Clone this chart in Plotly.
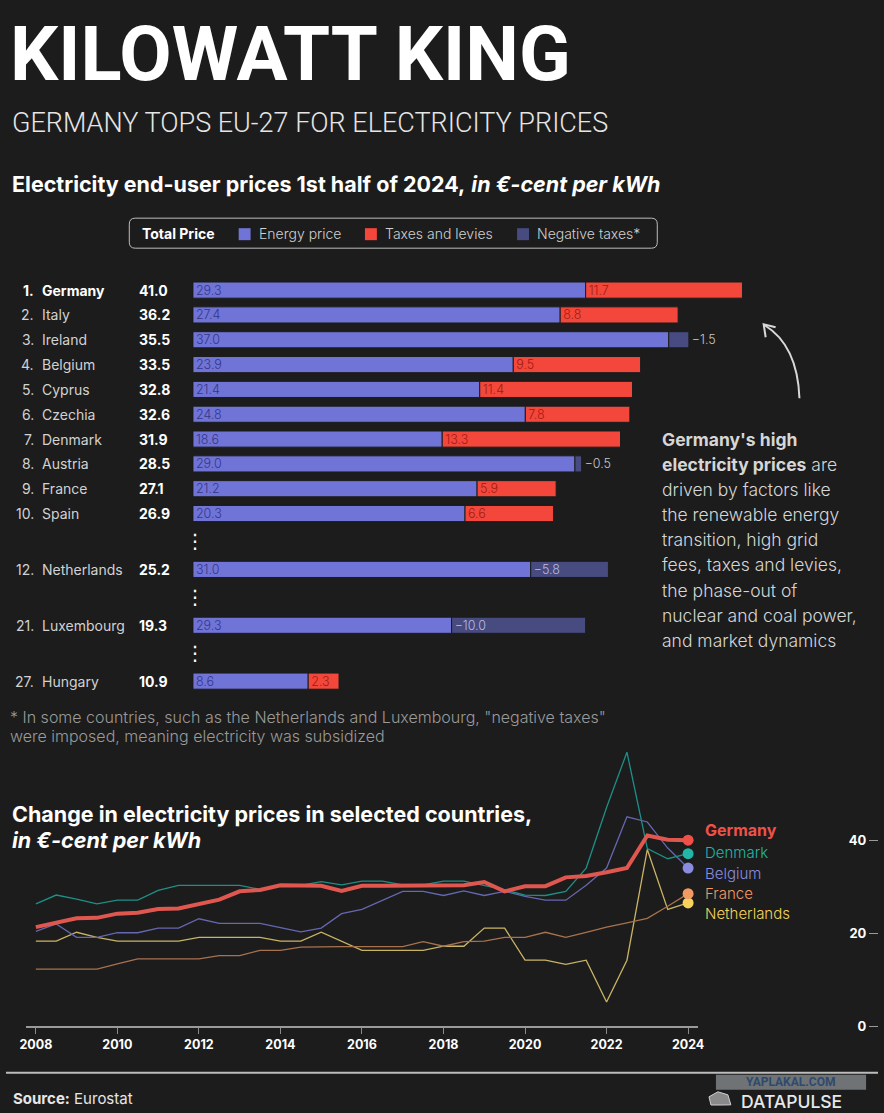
import plotly.graph_objects as go

W, H = 884, 1113
BG = "#1c1c1c"
FONT = "Inter, 'Noto Sans', sans-serif"
S = 1.008  # the page photo comes out ~0.8% smaller, so positions are stretched a little

# bar chart: electricity end-user prices, 1st half 2024 (euro-cent per kWh)
countries = ["Germany", "Italy", "Ireland", "Belgium", "Cyprus", "Czechia", "Denmark",
             "Austria", "France", "Spain", "Netherlands", "Luxembourg", "Hungary"]
ranks = [1, 2, 3, 4, 5, 6, 7, 8, 9, 10, 12, 21, 27]
totals = [41.0, 36.2, 35.5, 33.5, 32.8, 32.6, 31.9, 28.5, 27.1, 26.9, 25.2, 19.3, 10.9]
energy = [29.3, 27.4, 37.0, 23.9, 21.4, 24.8, 18.6, 29.0, 21.2, 20.3, 31.0, 29.3, 8.6]
taxes = [11.7, 8.8, -1.5, 9.5, 11.4, 7.8, 13.3, -0.5, 5.9, 6.6, -5.8, -10.0, 2.3]

# line chart: half-yearly prices 2008-S1 .. 2024-S1
periods = [2008.0, 2008.5, 2009.0, 2009.5, 2010.0, 2010.5, 2011.0, 2011.5, 2012.0, 2012.5,
           2013.0, 2013.5, 2014.0, 2014.5, 2015.0, 2015.5, 2016.0, 2016.5, 2017.0, 2017.5,
           2018.0, 2018.5, 2019.0, 2019.5, 2020.0, 2020.5, 2021.0, 2021.5, 2022.0, 2022.5,
           2023.0, 2023.5, 2024.0]
germany = [21.3, 22.2, 23.2, 23.3, 24.2, 24.4, 25.2, 25.3, 26.2, 27.2, 29.0, 29.3, 30.3, 30.3,
           30.2, 29.1, 30.2, 30.2, 30.2, 30.2, 30.3, 30.3, 31.0, 29.0, 30.1, 30.1, 32.0, 32.3,
           33.1, 34.0, 41.0, 40.1, 40.0]
denmark = [26.3, 28.2, 27.3, 26.3, 27.1, 27.1, 29.2, 30.3, 30.3, 30.3, 30.3, 29.4, 30.3, 30.3,
           31.1, 30.4, 31.2, 31.2, 30.4, 30.4, 31.2, 31.2, 30.3, 29.3, 28.2, 28.1, 29.0, 34.0,
           47.0, 58.9, 38.2, 36.0, 37.1]
belgium = [20.4, 22.0, 19.1, 19.1, 20.1, 20.1, 21.1, 21.1, 23.1, 22.1, 22.1, 22.1, 21.2, 20.3,
           21.1, 24.2, 25.1, 27.0, 29.0, 29.0, 28.1, 29.1, 28.1, 29.0, 27.9, 27.1, 27.1, 30.3,
           34.0, 45.0, 43.9, 38.3, 34.0]
france = [12.3, 12.3, 12.3, 12.3, 13.4, 14.5, 14.5, 14.5, 14.5, 15.2, 15.2, 16.3, 16.3, 17.0,
          17.1, 17.1, 17.1, 17.1, 17.1, 18.2, 17.2, 18.2, 18.3, 19.1, 19.1, 20.2, 19.1, 20.2,
          21.3, 22.2, 23.2, 25.8, 28.5]
netherlands = [18.3, 18.3, 20.2, 19.1, 18.3, 18.3, 18.3, 18.3, 19.1, 19.1, 19.1, 19.1, 18.3,
               18.3, 20.2, 18.3, 16.3, 16.3, 16.3, 16.3, 17.2, 17.2, 21.1, 21.1, 14.2, 14.2,
               13.3, 14.2, 5.2, 14.2, 38.0, 25.1, 26.5]
year_ticks = [2008, 2010, 2012, 2014, 2016, 2018, 2020, 2022, 2024]
price_ticks = [0, 20, 40]

C_ENERGY = "#7074d6"
C_TAX = "#f4473b"
C_NEG = "#474b80"


def X(px):
    return min(px * S / W, 1.0)


def Y(py):
    return max(1 - py * S / H, 0.0)


# row slots: consecutive ranks one row apart, skipped ranks leave a wider gap
pos = []
p = 0.0
for k, r in enumerate(ranks):
    if k > 0:
        p += 2.25 if r - ranks[k - 1] > 1 else 1
    pos.append(p)

fmt = lambda v: f"{v:.1f}".replace("-", "\u2212")

fig = go.Figure()

# energy part (for negative taxes the blue bar stops at the total)
blue_len = [e if t >= 0 else e + t for e, t in zip(energy, taxes)]
fig.add_trace(go.Bar(
    y=pos, x=blue_len, base=0, orientation="h", width=0.65,
    marker=dict(color=C_ENERGY, line=dict(color=BG, width=1)),
    text=[fmt(e) for e in energy], textposition="inside", insidetextanchor="start",
    textangle=0, textfont=dict(family=FONT, size=12.5, color="#33368a", weight=300),
    xaxis="x", yaxis="y", cliponaxis=False,
))
# taxes and levies
fig.add_trace(go.Bar(
    y=pos, x=[t if t > 0 else None for t in taxes],
    base=[e if t > 0 else None for e, t in zip(energy, taxes)],
    orientation="h", width=0.65,
    marker=dict(color=C_TAX, line=dict(color=BG, width=1)),
    text=[fmt(t) if t > 0 else "" for t in taxes], textposition="inside",
    insidetextanchor="start", textangle=0,
    textfont=dict(family=FONT, size=12.5, color="#a01c12", weight=300),
    xaxis="x", yaxis="y", cliponaxis=False,
))
# negative taxes
fig.add_trace(go.Bar(
    y=pos, x=[-t if t < 0 else None for t in taxes],
    base=[tot if t < 0 else None for tot, t in zip(totals, taxes)],
    orientation="h", width=0.65,
    marker=dict(color=C_NEG, line=dict(color=BG, width=1)),
    text=[fmt(t) if t < 0 else "" for t in taxes],
    textposition=["outside" if -t < 2 else "inside" for t in taxes],
    insidetextanchor="start", textangle=0,
    insidetextfont=dict(family=FONT, size=12.5, color="#b9bce0", weight=300),
    outsidetextfont=dict(family=FONT, size=12.5, color="#c8c8c8", weight=300),
    xaxis="x", yaxis="y", cliponaxis=False,
))

# line chart
series = [
    ("Netherlands", netherlands, "#c9b464", "#f7d35c", 1.3),
    ("France", france, "#a8724f", "#f39a63", 1.3),
    ("Belgium", belgium, "#6567b0", "#8a8ce0", 1.3),
    ("Denmark", denmark, "#1d8f86", "#22b5a8", 1.3),
    ("Germany", germany, "#e0574f", "#ef5148", 4),
]
for name, vals, lc, mc, lw in series:
    fig.add_trace(go.Scatter(
        x=periods, y=vals, mode="lines", line=dict(color=lc, width=lw),
        xaxis="x2", yaxis="y2", hoverinfo="skip",
    ))
for name, vals, lc, mc, lw in series:
    fig.add_trace(go.Scatter(
        x=[periods[-1]], y=[vals[-1]], mode="markers",
        marker=dict(color=mc, size=11), xaxis="x2", yaxis="y2", cliponaxis=False,
    ))

ann = []
shapes = []


def text(px, py, s, size, color="#ffffff", anchor="left", family=FONT, **kw):
    ann.append(dict(x=X(px), y=Y(py), xref="paper", yref="paper", text=s, showarrow=False,
                    xanchor=anchor, yanchor="middle",
                    font=dict(family=family, size=size, color=color, **kw)))


# titles
text(2, 54, "KILOWATT KING", 76, family="Roboto, sans-serif", weight=700)
text(4, 123, "GERMANY TOPS EU-27 FOR ELECTRICITY PRICES", 27, color="#e6e6e6",
     family="Roboto, sans-serif", weight=300)
text(4, 184, "<b>Electricity end-user prices 1st half of 2024,</b> <b><i>in €-cent per kWh</i></b>",
     21.5)

# legend box
x0, x1, y0, y1 = X(124), X(655), Y(218), Y(248)
rx, ry = 6 / W, 6 / H
shapes.append(dict(
    type="path", xref="paper", yref="paper", line=dict(color="#bdbdbd", width=1),
    path=(f"M {x0 + rx} {y0} L {x1 - rx} {y0} Q {x1} {y0} {x1} {y0 - ry} "
          f"L {x1} {y1 + ry} Q {x1} {y1} {x1 - rx} {y1} L {x0 + rx} {y1} "
          f"Q {x0} {y1} {x0} {y1 + ry} L {x0} {y0 - ry} Q {x0} {y0} {x0 + rx} {y0} Z"),
))
text(135, 233, "<b>Total Price</b>", 14)
for sx, col, lab in [(234, C_ENERGY, "Energy price"), (361, C_TAX, "Taxes and levies"),
                     (514, C_NEG, "Negative taxes*")]:
    shapes.append(dict(type="rect", xref="paper", yref="paper", x0=X(sx), x1=X(sx + 12),
                       y0=Y(228), y1=Y(240), fillcolor=col, line=dict(width=0)))
    text(sx + 18, 233, lab, 14, color="#d0d0d0", weight=300)

# row labels
for k, (c, r_, tot, yp) in enumerate(zip(countries, ranks, totals, pos)):
    bold = k == 0
    col = "#ffffff" if bold else "#d2d2d2"
    w = 700 if bold else 400
    for xx, s, anc, cc, ww in [(30, f"{r_}.", "right", col, w), (34, c, "left", col, w),
                               (132, f"{tot:.1f}", "left", "#ffffff", 700)]:
        ann.append(dict(x=X(xx), y=yp, xref="paper", yref="y", text=s, showarrow=False,
                        xanchor=anc, yanchor="middle",
                        font=dict(family=FONT, size=14, color=cc, weight=ww)))
# vertical ellipsis where ranks are skipped
for k in range(1, len(ranks)):
    if ranks[k] - ranks[k - 1] > 1:
        ann.append(dict(x=X(190), y=(pos[k] + pos[k - 1]) / 2, xref="paper", yref="y",
                        text="⋮", showarrow=False, xanchor="center", yanchor="middle",
                        font=dict(family="DejaVu Sans", size=20, color="#ffffff")))

# footnote
text(2, 716, '* In some countries, such as the Netherlands and Luxembourg, "negative taxes"', 16,
     color="#9a9a9a", weight=300)
text(2, 735, "were imposed, meaning electricity was subsidized", 16, color="#9a9a9a", weight=300)

# side note
para = ["<b>Germany's high</b>", "<b>electricity prices</b> are", "driven by factors like",
        "the renewable energy", "transition, high grid", "fees, taxes and levies,",
        "the phase-out of", "nuclear and coal power,", "and market dynamics"]
for i, s in enumerate(para):
    text(658, 439 + 25.1 * i, s, 17.5, color="#d6d6d6", weight=300)

# curved arrow toward Germany
shapes.append(dict(type="path", xref="paper", yref="paper",
                   line=dict(color="#d8d8d8", width=2),
                   path=f"M {X(798)} {Y(398)} Q {X(796)} {Y(345)} {X(763)} {Y(325)}"))
shapes.append(dict(type="path", xref="paper", yref="paper",
                   line=dict(color="#d8d8d8", width=2),
                   path=f"M {X(774)} {Y(327)} L {X(762)} {Y(324)} L {X(764)} {Y(337)}"))

# line chart titles
text(4, 813, "<b>Change in electricity prices in selected countries,</b>", 21.5)
text(4, 839, "<b><i>in €-cent per kWh</i></b>", 21.5)

# line labels
for py_, (name, vals, lc, mc, lw) in zip([913, 893, 873, 852, 829], series):
    if name == "Germany":
        text(701, py_, f"<b>{name}</b>", 16, color=mc)
    else:
        text(701, py_, name, 15, color=mc, weight=300)

# footer
shapes.append(dict(type="line", xref="paper", yref="paper", x0=0, x1=1, y0=Y(1072),
                   y1=Y(1072), line=dict(color="#bdbdbd", width=2)))
text(5, 1098, "<b>Source:</b> Eurostat", 15, color="#e6e6e6")
shapes.append(dict(type="rect", xref="paper", yref="paper", x0=X(714), x1=X(865),
                   y0=Y(1089), y1=Y(1074), fillcolor="#6f7375", line=dict(width=0)))
text(789, 1081, "<b>YAPLAKAL.COM</b>", 12, color="#2e4a6e", anchor="center",
     family="Roboto, sans-serif")
shapes.append(dict(type="path", xref="paper", yref="paper", fillcolor="#8a8a8a",
                   line=dict(color="#d0d0d0", width=1),
                   path=(f"M {X(716)} {Y(1091)} L {X(726)} {Y(1094)} L {X(729)} {Y(1104)} "
                         f"L {X(720)} {Y(1110)} L {X(709)} {Y(1107)} L {X(707)} {Y(1096)} Z")))
text(737, 1101, "DATAPULSE", 17.5, color="#e8e8e8", weight=500)

fig.update_layout(
    width=W, height=H, margin=dict(l=0, r=0, t=0, b=0),
    paper_bgcolor=BG, plot_bgcolor=BG, showlegend=False, barmode="overlay",
    uniformtext=dict(minsize=12, mode="show"),
    font=dict(family=FONT, color="#ffffff"),
    xaxis=dict(domain=[X(188), X(862)], range=[0, 50], visible=False, fixedrange=True),
    yaxis=dict(domain=[Y(695.5), Y(275)], range=[16.35, -0.6], visible=False,
               fixedrange=True),
    xaxis2=dict(domain=[X(20), X(696)], range=[2007.756, 2024.244], anchor="y2",
                tickvals=year_ticks, ticks="outside", ticklen=6, tickcolor="#8a8a8a",
                showline=True, linecolor="#9a9a9a", linewidth=2, showgrid=False,
                zeroline=False, tickfont=dict(family=FONT, size=12.5, color="#ffffff",
                                              weight=700)),
    yaxis2=dict(domain=[Y(1025.5), Y(737.2)], range=[0, 62], anchor="free", position=1.0,
                side="left", tickvals=price_ticks, ticks="outside", ticklen=9,
                tickcolor="#9a9a9a", showline=False, showgrid=False, zeroline=False,
                tickfont=dict(family=FONT, size=13, color="#ffffff", weight=700)),
    annotations=ann, shapes=shapes,
)

# page margin and scrollbars off so the 884x1113 figure fills the window exactly
fig.write_html("out.html", config={"displayModeBar": False},
               post_script="document.body.style.margin='0';"
                           "document.body.style.overflow='hidden';"
                           "document.documentElement.style.overflow='hidden';"
                           "document.body.style.background='#1c1c1c';")
